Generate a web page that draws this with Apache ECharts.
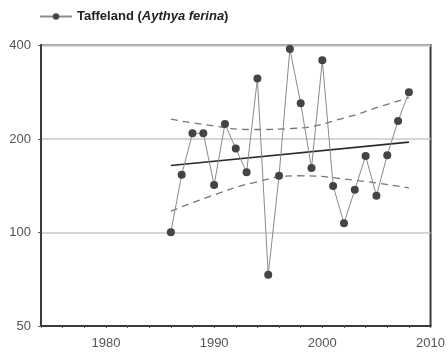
<!DOCTYPE html>
<html>
<head>
<meta charset="utf-8">
<script src="https://cdn.jsdelivr.net/npm/echarts@6/dist/echarts.min.js"></script>
<style>html,body{margin:0;padding:0;background:#fff;}#c{width:448px;height:354px;}</style>
</head>
<body>
<div id="c"></div>
<script>
var years = [1986,1987,1988,1989,1990,1991,1992,1993,1994,1995,1996,1997,1998,1999,2000,2001,2002,2003,2004,2005,2006,2007,2008];
var counts = [100,153,208,208,142,223,186,156,312,73,152,388,260,161,357,141,107,137,176,131,177,228,282];
var trendYears = [1986, 2008];
var trendValues = [164, 195];
var upperYears = [1986, 1989.5, 1993.5, 1997.5, 2002, 2005.7, 2008];
var upperValues = [231, 221, 214, 216, 233, 256, 271];
var lowerYears = [1986, 1989.5, 1993.5, 1997.7, 2003, 2008];
var lowerValues = [117, 130, 144, 152, 147, 139];
var xTickLabels = [1980, 1990, 2000, 2010];
var yTickLabels = [50, 100, 200, 400];
var seriesName = 'Taffeland (Aythya ferina)';

function pairs(xs, ys){ return xs.map(function(x,i){ return [x, ys[i]]; }); }

var font = "'Liberation Sans', Arial, sans-serif";
var chart = echarts.init(document.getElementById('c'), null, {renderer:'canvas'});
chart.setOption({
  animation: false,
  backgroundColor: '#fff',
  grid: {left: 41, right: 17, top: 45, bottom: 28, show: true, borderColor: '#3a3a3a', borderWidth: 2, backgroundColor: 'transparent'},
  legend: {
    data: [seriesName], left: 34, top: 5, itemWidth: 32, itemHeight: 8, itemGap: 8,
    formatter: function(){ return '{b|Taffeland (}{i|Aythya ferina}{b|)}'; },
    textStyle: {fontFamily: font, fontSize: 13, color: '#222',
      rich: {b: {fontFamily: font, fontSize: 13, fontWeight: 'bold', color: '#222'},
             i: {fontFamily: font, fontSize: 13, fontWeight: 'bold', fontStyle: 'italic', color: '#222'}}}
  },
  xAxis: {
    type: 'value', min: 1974, max: 2010, interval: 2,
    axisLine: {show: true, lineStyle: {color: '#3a3a3a', width: 2}},
    axisTick: {show: true, length: 2, lineStyle: {color: '#555'}},
    splitLine: {show: false},
    axisLabel: {margin: 11, color: '#555', fontFamily: font, fontSize: 13,
      formatter: function(v){ return xTickLabels.indexOf(v) >= 0 ? String(v) : ''; }}
  },
  yAxis: {
    type: 'log', logBase: 2, min: 50, max: 400, interval: 1,
    axisLine: {show: true, lineStyle: {color: '#3a3a3a', width: 2}},
    axisTick: {show: true, length: 3, lineStyle: {color: '#555'}},
    splitLine: {show: true, lineStyle: {color: '#c8c8c8', width: 1.5}},
    axisLabel: {margin: 10, color: '#555', fontFamily: font, fontSize: 13, showMinLabel: true, showMaxLabel: true, hideOverlap: false,
      formatter: function(v){
        for (var i = 0; i < yTickLabels.length; i++) {
          if (Math.abs(v / yTickLabels[i] - 1) < 0.05) return String(yTickLabels[i]);
        }
        return '';
      }}
  },
  series: [
    {name: 'upper', type: 'line', data: pairs(upperYears, upperValues), smooth: true, showSymbol: false, silent: true,
     lineStyle: {color: '#777', width: 1.3, type: [7, 5]}, z: 2},
    {name: 'lower', type: 'line', data: pairs(lowerYears, lowerValues), smooth: true, showSymbol: false, silent: true,
     lineStyle: {color: '#777', width: 1.3, type: [7, 5]}, z: 2},
    {name: 'trend', type: 'line', data: pairs(trendYears, trendValues), showSymbol: false, silent: true,
     lineStyle: {color: '#2a2a2a', width: 1.6}, z: 3},
    {name: seriesName, type: 'line', data: pairs(years, counts), symbol: 'circle', symbolSize: 8,
     itemStyle: {color: '#444'}, lineStyle: {color: '#8a8a8a', width: 1}, z: 4}
  ]
});
</script>
</body>
</html>
